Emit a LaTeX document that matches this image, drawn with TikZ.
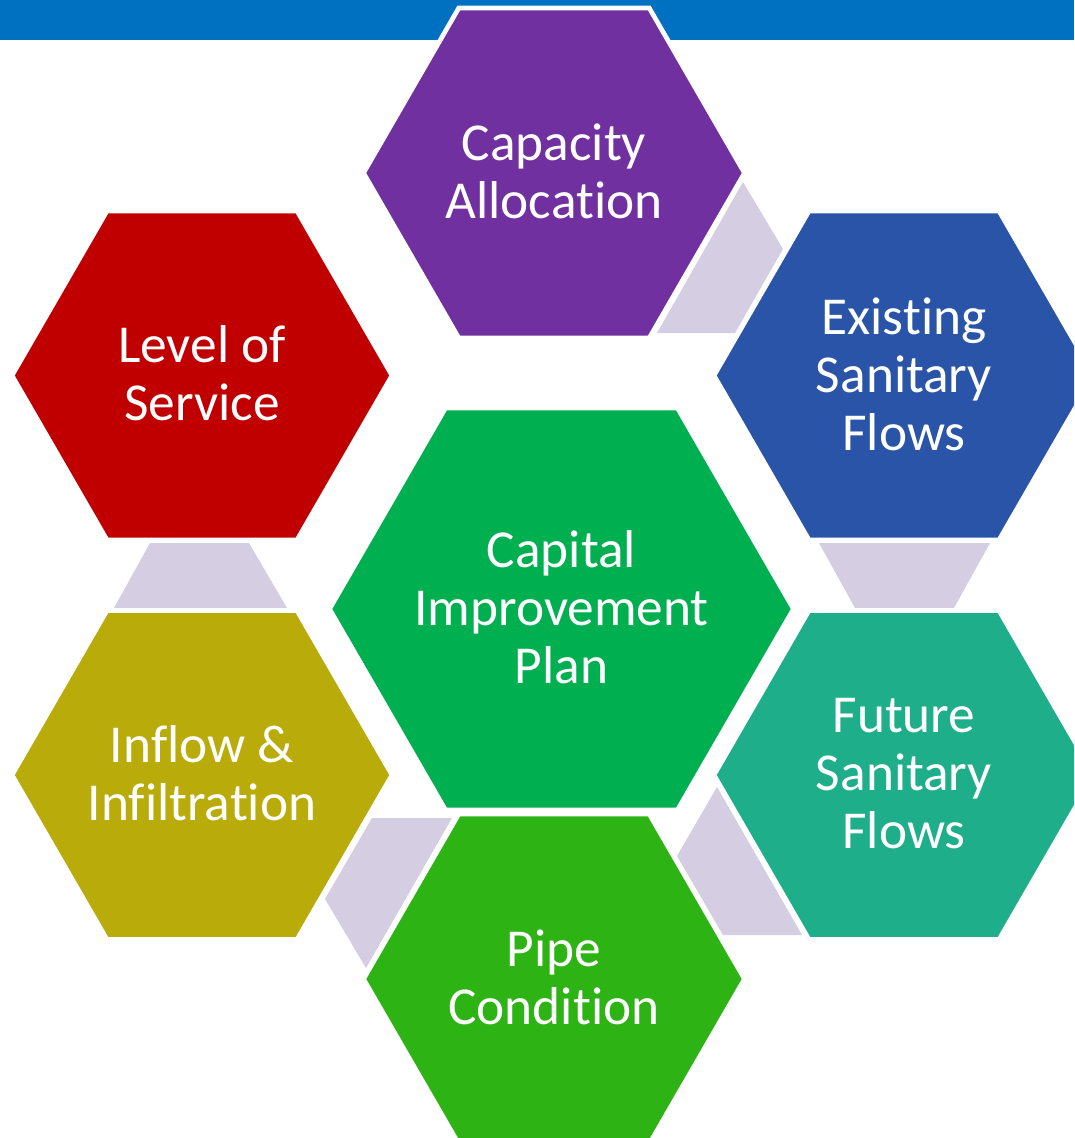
\documentclass[tikz,border=0pt]{standalone}
\usepackage{fontspec}
\setmainfont{Carlito}[Ligatures={NoCommon}]
\definecolor{barblue}{HTML}{0070C0}
\definecolor{cpurple}{HTML}{7030A0}
\definecolor{cred}{HTML}{C00000}
\definecolor{cblue}{HTML}{2954A8}
\definecolor{cgreen}{HTML}{00B050}
\definecolor{colive}{HTML}{B9AB0A}
\definecolor{cteal}{HTML}{1EAE8A}
\definecolor{cpipe}{HTML}{2DB314}
\definecolor{clink}{HTML}{D5CDE1}
\tikzset{
  hexshape/.style={draw=white, line width=3.5pt, line join=miter},
  hextext/.style={text=white, align=center, inner sep=0pt,
    font=\fontsize{40}{43.5}\selectfont},
  linkshape/.style={fill=clink},
}
\newcommand\hexa[4]{%
  \path[hexshape, fill=#4, shift={(#1,#2)}]
    (0:#3) -- (60:#3) -- (120:#3) -- (180:#3) -- (240:#3) -- (300:#3) -- cycle;}
\begin{document}
\begin{tikzpicture}[x=0.75pt, y=-0.75pt]
\useasboundingbox (0,0) rectangle (1074,1138);
\clip (0,0) rectangle (1074,1138);
\fill[white] (0,0) rectangle (1074,1138);
% top bar
\fill[barblue] (0,0) rectangle (1074,40);
% link shapes
\path[linkshape] (743,182) -- (783,249) -- (735,333) -- (657,333) -- cycle;
\path[linkshape] (150,543) -- (249,543) -- (287,608) -- (114,608) -- cycle;
\path[linkshape] (819,543) -- (990,543) -- (954,608) -- (855,608) -- cycle;
\path[linkshape] (717,787) -- (802,935) -- (723,935) -- (677,856) -- cycle;
\path[linkshape] (372,818) -- (452,818) -- (366,968) -- (325,899) -- cycle;
% hexagons
\hexa{554}{173}{190.5}{cpurple}
\hexa{202}{375.5}{190}{cred}
\hexa{904}{375.5}{190}{cblue}
\hexa{561.5}{609}{232}{cgreen}
\hexa{202}{775}{190}{colive}
\hexa{904}{775}{190}{cteal}
\hexa{554}{979}{190.5}{cpipe}
% texts
\node[hextext] (cap) at (554,171) {Capacity\\Allocation};
\node[hextext] (los) at (202,373.5) {Level of\\Service};
\node[hextext] (esf) at (904,374) {Existing\\Sanitary\\Flows};
\node[hextext] (cip) at (561.5,607) {Capital\\Improvement\\Plan};
\node[hextext] (inf) at (202,773) {Inflow \&\\Infiltration};
\node[hextext] (fsf) at (904,773.5) {Future\\Sanitary\\Flows};
\node[hextext] (pc) at (554,977) {Pipe\\Condition};
\end{tikzpicture}
\end{document}
